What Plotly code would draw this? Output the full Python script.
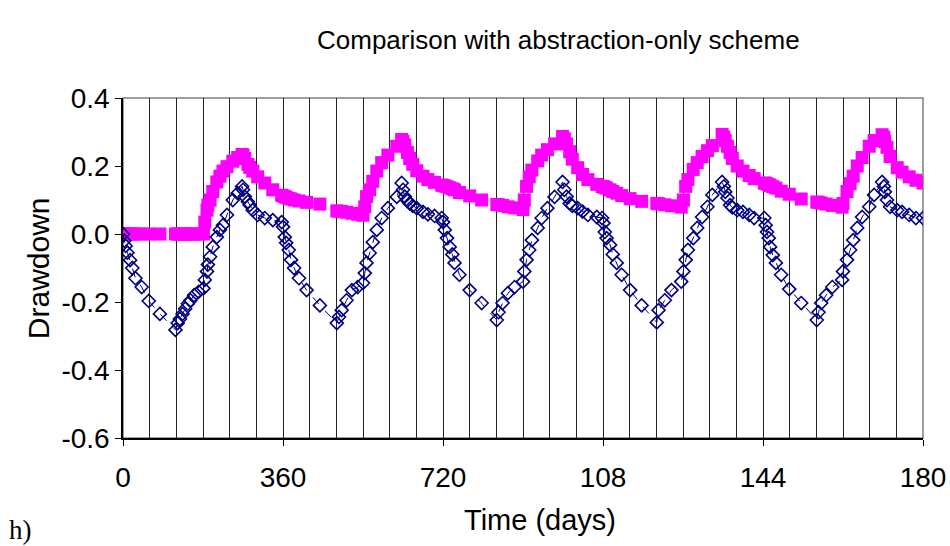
import plotly.graph_objects as go

# ---- data ----
days = [0, 3, 6, 10, 16, 21, 28, 42, 58, 83, 118, 123, 128, 134, 140, 146, 152, 160, 170, 181,
        184, 189, 191, 196, 202, 211, 218, 225, 234, 247, 258, 268, 270, 274, 281, 285, 292, 303,
        319, 337, 357, 360, 364, 367, 373, 378, 385, 396, 413,
        443, 481, 486, 492, 503, 515, 528, 540, 544, 548, 555, 562, 571, 582, 596, 616, 627, 630,
        634, 640, 645, 652, 661, 675, 686, 701, 717, 720, 724, 729, 735, 741, 746, 757, 780, 807, 841,
        845, 854, 866, 881, 900, 903, 908, 914, 920, 933, 942, 955, 971, 989, 993, 998, 1005, 1011,
        1023, 1034, 1046, 1066, 1078, 1081, 1084, 1088, 1096, 1102, 1111, 1122, 1141, 1167, 1201,
        1205, 1219, 1234, 1256, 1261, 1266, 1271, 1283, 1292, 1303, 1315, 1326, 1348, 1352, 1355,
        1360, 1366, 1371, 1382, 1395, 1409, 1420, 1443, 1446, 1449, 1453, 1456, 1462, 1469, 1481,
        1499, 1526, 1561,
        1565, 1571, 1582, 1596, 1618, 1620, 1629, 1636, 1643, 1652, 1663, 1679, 1690, 1708, 1712,
        1714, 1719, 1726, 1742, 1753, 1769, 1784, 1800]

abstraction_only = [0.0, -0.02, -0.035, -0.055, -0.077, -0.10, -0.13, -0.156, -0.197, -0.235, -0.282,
                    -0.262, -0.25, -0.235, -0.22, -0.205, -0.195, -0.18, -0.17, -0.16,
                    -0.135, -0.11, -0.09, -0.067, -0.038, -0.009, 0.012, 0.026, 0.056, 0.1, 0.12, 0.14,
                    0.13, 0.11, 0.095, 0.085, 0.07, 0.056, 0.047, 0.041, 0.035, 0.021, -0.009, -0.026,
                    -0.047, -0.076, -0.1, -0.13, -0.165,
                    -0.21, -0.262, -0.244, -0.224, -0.195, -0.165, -0.156, -0.144, -0.115, -0.085,
                    -0.056, -0.024, 0.012, 0.047, 0.076, 0.109, 0.15, 0.13, 0.11, 0.098, 0.09, 0.083,
                    0.076, 0.065, 0.058, 0.053, 0.047, 0.035, 0.012, -0.012, -0.038, -0.06, -0.085,
                    -0.12, -0.165, -0.203, -0.253,
                    -0.23, -0.203, -0.174, -0.156, -0.14, -0.11, -0.076, -0.047, -0.018, 0.018, 0.047,
                    0.076, 0.109, 0.153, 0.13, 0.11, 0.09, 0.083, 0.076, 0.066, 0.056, 0.05, 0.047,
                    0.032, 0.006, -0.012, -0.032, -0.06, -0.085, -0.12, -0.165, -0.21, -0.26,
                    -0.224, -0.195, -0.165, -0.14, -0.11, -0.076, -0.047, -0.012, 0.018, 0.05, 0.08,
                    0.115, 0.153, 0.14, 0.124, 0.106, 0.085, 0.078, 0.07, 0.065, 0.056, 0.047, 0.047,
                    0.026, 0.006, -0.012, -0.038, -0.062, -0.085, -0.12, -0.162, -0.203, -0.253,
                    -0.23, -0.203, -0.18, -0.156, -0.135, -0.11, -0.076, -0.047, -0.018, 0.018, 0.05,
                    0.08, 0.115, 0.153, 0.14, 0.124, 0.1, 0.08, 0.07, 0.065, 0.056, 0.047, 0.047]

combined_scheme = [0.0, 0.0, 0.0, 0.0, 0.0, 0.0, 0.0, 0.0, 0.0, 0.0, 0.0,
                   0.0, 0.0, 0.0, 0.0, 0.0, 0.0, 0.0, 0.0, 0.0,
                   0.035, 0.07, 0.085, 0.1, 0.125, 0.153, 0.17, 0.185, 0.198, 0.214, 0.225, 0.234,
                   0.232, 0.222, 0.205, 0.196, 0.185, 0.168, 0.15, 0.13, 0.114, 0.112, 0.11, 0.108,
                   0.105, 0.103, 0.1, 0.097, 0.093,
                   0.088, 0.068, 0.067, 0.066, 0.064, 0.061, 0.058, 0.055, 0.08, 0.11, 0.13, 0.155,
                   0.185, 0.21, 0.232, 0.258, 0.278, 0.272, 0.262, 0.24, 0.222, 0.205, 0.186, 0.17,
                   0.16, 0.152, 0.144, 0.143, 0.141, 0.139, 0.136, 0.133, 0.13, 0.122, 0.112, 0.1, 0.087,
                   0.086, 0.084, 0.08, 0.077, 0.072, 0.1, 0.14, 0.168, 0.188, 0.215, 0.232, 0.248,
                   0.265, 0.287, 0.28, 0.265, 0.242, 0.22, 0.195, 0.175, 0.16, 0.146, 0.14, 0.139,
                   0.137, 0.135, 0.13, 0.125, 0.12, 0.113, 0.104, 0.096, 0.09,
                   0.089, 0.086, 0.083, 0.079, 0.1, 0.14, 0.16, 0.19, 0.21, 0.228, 0.245, 0.26, 0.293,
                   0.285, 0.275, 0.258, 0.24, 0.222, 0.2, 0.185, 0.172, 0.163, 0.15, 0.149, 0.147,
                   0.145, 0.143, 0.139, 0.135, 0.126, 0.117, 0.103, 0.094,
                   0.093, 0.091, 0.088, 0.084, 0.079, 0.09, 0.125, 0.148, 0.17, 0.2, 0.225, 0.258,
                   0.275, 0.292, 0.285, 0.272, 0.255, 0.228, 0.195, 0.182, 0.168, 0.158, 0.15]

x_tick_vals = [0, 360, 720, 1080, 1440, 1800]
x_tick_text = ["0", "360", "720", "108", "144", "180"]
y_tick_vals = [-0.6, -0.4, -0.2, 0.0, 0.2, 0.4]
y_tick_text = ["-0.6", "-0.4", "-0.2", "0.0", "0.2", "0.4"]

FONT = "Liberation Sans, Arial, sans-serif"

fig = go.Figure()
fig.add_trace(go.Scatter(
    x=days, y=combined_scheme, mode="markers", name="Combined scheme",
    marker=dict(symbol="square", size=13, color="#FF00FF", line=dict(width=0)),
))
fig.add_trace(go.Scatter(
    x=days, y=abstraction_only, mode="lines+markers", name="Abstraction only",
    line=dict(color="#000080", width=1, dash="dash"),
    marker=dict(symbol="diamond-open", size=10, color="#000080", line=dict(width=1.6, color="#000080")),
))

fig.update_layout(
    width=950, height=546,
    margin=dict(l=123, r=27, t=98, b=108, autoexpand=False),
    paper_bgcolor="white", plot_bgcolor="white",
    showlegend=False,
    font=dict(family=FONT, color="black"),
    shapes=[dict(type="rect", xref="paper", yref="paper", x0=0, x1=1, y0=0, y1=1,
                 line=dict(color="#808080", width=1.5), layer="below")],
    annotations=[
        dict(text="Comparison with abstraction-only scheme", xref="paper", yref="paper",
             x=0.544, y=1.171, xanchor="center", yanchor="middle", showarrow=False,
             font=dict(size=26, family=FONT)),
        dict(text="Drawdown", xref="paper", yref="paper", x=-0.106, y=0.5, textangle=-90,
             xanchor="center", yanchor="middle", showarrow=False, font=dict(size=30, family=FONT)),
        dict(text="Time (days)", xref="paper", yref="paper", x=0.521, y=-0.241,
             xanchor="center", yanchor="middle", showarrow=False, font=dict(size=29, family=FONT)),
        dict(text="h)", xref="paper", yref="paper", x=-0.145, y=-0.27,
             xanchor="left", yanchor="middle", showarrow=False,
             font=dict(size=27, family="Liberation Serif, Times New Roman, serif")),
    ],
)

fig.update_xaxes(
    range=[0, 1800], tickmode="array", tickvals=x_tick_vals, ticktext=x_tick_text,
    ticks="outside", ticklen=6, tickcolor="black", tickwidth=1,
    ticklabelstandoff=8, automargin=False,
    showline=True, linecolor="black", linewidth=1.5,
    showgrid=True, gridcolor="#222222", gridwidth=1, zeroline=False,
    tickfont=dict(size=28, family=FONT),
    minor=dict(tickmode="linear", tick0=0, dtick=60, showgrid=True, gridcolor="#222222",
               gridwidth=1, ticks=""),
)
fig.update_yaxes(
    range=[-0.6, 0.4], tickmode="array", tickvals=y_tick_vals, ticktext=y_tick_text,
    ticks="outside", ticklen=6, tickcolor="black", tickwidth=1, automargin=False,
    showline=True, linecolor="black", linewidth=1.5,
    showgrid=False, zeroline=False,
    tickfont=dict(size=28, family=FONT),
)

fig.write_html("out.html")
